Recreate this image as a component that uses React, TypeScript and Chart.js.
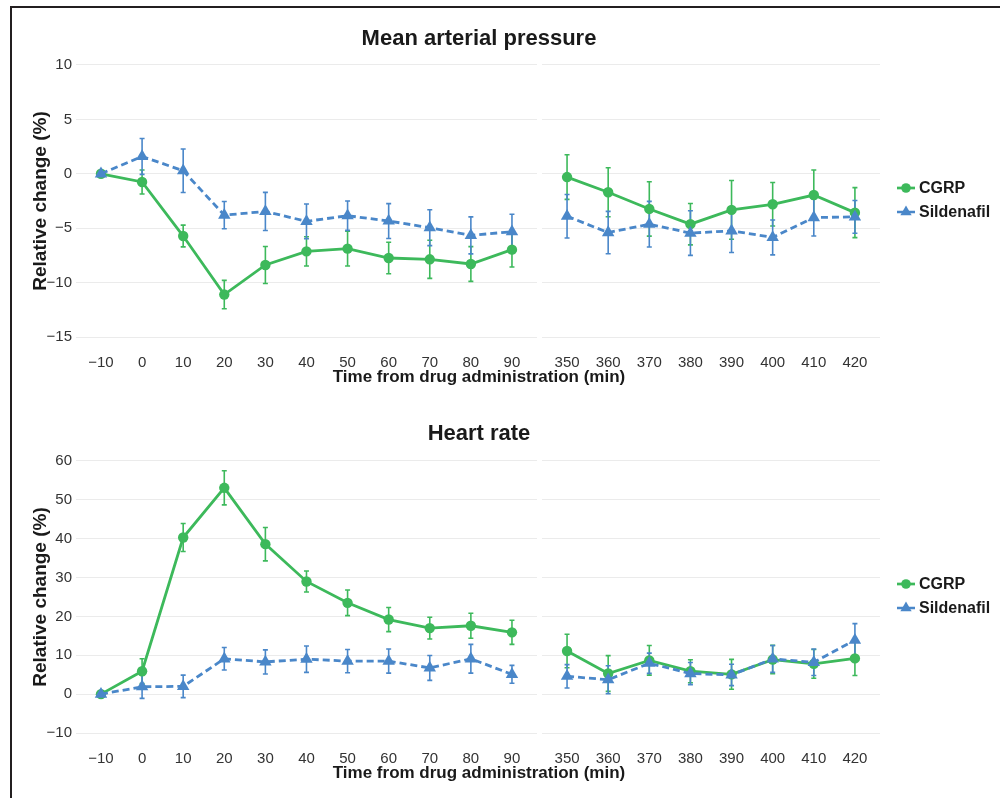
import React, { useEffect, useRef } from "react";
import { Chart, registerables } from "chart.js";

Chart.register(...registerables);

// ---------- Data ----------
const LEFT_TIMES = [-10, 0, 10, 20, 30, 40, 50, 60, 70, 80, 90];
const RIGHT_TIMES = [350, 360, 370, 380, 390, 400, 410, 420];
const MAP_TICKS = [10, 5, 0, -5, -10, -15];
const HR_TICKS = [60, 50, 40, 30, 20, 10, 0, -10];
const SERIES_NAMES = ["CGRP", "Sildenafil"];

// Mean arterial pressure (relative change, %)
const MAP_CGRP_LEFT = [0, -0.75, -5.72, -11.1, -8.38, -7.13, -6.88, -7.74, -7.86, -8.29, -6.97];
const MAP_CGRP_LEFT_ERR = [0, 1.1, 1.0, 1.3, 1.7, 1.35, 1.6, 1.45, 1.75, 1.6, 1.6];
const MAP_CGRP_RIGHT = [-0.3, -1.7, -3.23, -4.63, -3.32, -2.8, -1.95, -3.57];
const MAP_CGRP_RIGHT_ERR = [2.05, 2.25, 2.5, 1.9, 2.7, 2.0, 2.3, 2.3];
const MAP_SIL_LEFT = [0, 1.6, 0.28, -3.8, -3.46, -4.37, -3.85, -4.34, -4.95, -5.66, -5.32];
const MAP_SIL_LEFT_ERR = [0, 1.65, 2.0, 1.25, 1.75, 1.6, 1.35, 1.6, 1.65, 1.7, 1.6];
const MAP_SIL_RIGHT = [-3.9, -5.4, -4.63, -5.45, -5.24, -5.85, -4.02, -3.96];
const MAP_SIL_RIGHT_ERR = [2.0, 1.95, 2.1, 2.05, 2.0, 1.6, 1.7, 1.5];

// Heart rate (relative change, %)
const HR_CGRP_LEFT = [0, 5.9, 40.3, 53.1, 38.6, 29.0, 23.5, 19.2, 17.0, 17.6, 15.9];
const HR_CGRP_LEFT_ERR = [0, 3.2, 3.6, 4.4, 4.3, 2.7, 3.3, 3.1, 2.8, 3.2, 3.1];
const HR_CGRP_RIGHT = [11.1, 5.3, 8.7, 5.9, 5.1, 8.9, 7.8, 9.2];
const HR_CGRP_RIGHT_ERR = [4.3, 4.6, 3.8, 2.95, 3.85, 3.65, 3.7, 4.4];
const HR_SIL_LEFT = [0, 1.9, 2.0, 9.1, 8.3, 9.0, 8.5, 8.5, 6.75, 9.1, 5.1];
const HR_SIL_LEFT_ERR = [0, 3.0, 2.9, 2.9, 3.1, 3.4, 3.0, 3.1, 3.2, 3.7, 2.3];
const HR_SIL_RIGHT = [4.6, 3.7, 7.95, 5.3, 4.95, 9.05, 8.2, 13.9];
const HR_SIL_RIGHT_ERR = [3.0, 3.6, 2.6, 2.85, 2.75, 3.45, 3.4, 4.25];

// ---------- Styles ----------
const FONT = '"Liberation Sans", Arial, Helvetica, sans-serif';
const GREEN = "#3db95b";
const BLUE = "#4a87c9";
const GRID = "#ebebeb";
const TEXT = "#1a1a1a";
const TICK = "#333333";
const DASH = [7, 4];
const CIRCLE_R = 5.2;
const TRI_R = 7.2;

const fmt = (v: number) => (v < 0 ? "\u2212" + Math.abs(v) : String(v));

const errorBarPlugin = {
  id: "errorBars",
  beforeDatasetsDraw(chart: any) {
    const ctx = chart.ctx;
    const area = chart.chartArea;
    // gap between the two x panels
    const xl = chart.scales.xL;
    ctx.save();
    ctx.fillStyle = "#ffffff";
    ctx.fillRect(xl.right - 2.5, area.top, 5, area.bottom - area.top);
    ctx.restore();

    const y = chart.scales.y;
    chart.data.datasets.forEach((ds: any) => {
      const xs = chart.scales[ds.xAxisID];
      ctx.save();
      ctx.strokeStyle = ds.borderColor;
      ctx.lineWidth = 1.6;
      ds.data.forEach((p: any, i: number) => {
        const e = ds.errors[i];
        if (!e) return;
        const px = xs.getPixelForValue(p.x);
        const y1 = y.getPixelForValue(p.y + e);
        const y2 = y.getPixelForValue(p.y - e);
        ctx.beginPath();
        ctx.moveTo(px, y1);
        ctx.lineTo(px, y2);
        ctx.moveTo(px - 2.5, y1);
        ctx.lineTo(px + 2.5, y1);
        ctx.moveTo(px - 2.5, y2);
        ctx.lineTo(px + 2.5, y2);
        ctx.stroke();
      });
      ctx.restore();
    });
  },
};

const textPlugin = {
  id: "panelText",
  afterDraw(chart: any, _args: any, opts: any) {
    const ctx = chart.ctx;
    const a = chart.chartArea;
    const cx = (a.left + a.right) / 2;
    const cy = (a.top + a.bottom) / 2;
    ctx.save();
    ctx.fillStyle = TEXT;
    ctx.textAlign = "center";
    ctx.textBaseline = "middle";
    ctx.font = `bold 22px ${FONT}`;
    ctx.fillText(opts.title, cx + 1, 39);
    ctx.font = `bold 17px ${FONT}`;
    ctx.fillText("Time from drug administration (min)", cx + 1, a.bottom + 27);
    ctx.save();
    ctx.translate(41, cy);
    ctx.rotate(-Math.PI / 2);
    ctx.font = `bold 19px ${FONT}`;
    ctx.fillText("Relative change (%)", 0, 0);
    ctx.restore();

    // legend
    const items = [
      { name: SERIES_NAMES[0], color: GREEN, style: "circle", dy: -13, dash: [] as number[] },
      { name: SERIES_NAMES[1], color: BLUE, style: "triangle", dy: 11, dash: DASH },
    ];
    items.forEach((it) => {
      const ly = cy + it.dy;
      const x0 = a.right + 17;
      const x1 = a.right + 35;
      const mx = (x0 + x1) / 2;
      ctx.save();
      ctx.strokeStyle = it.color;
      ctx.lineWidth = 2.7;
      ctx.setLineDash(it.dash);
      ctx.beginPath();
      ctx.moveTo(x0, ly);
      ctx.lineTo(x1, ly);
      ctx.stroke();
      ctx.restore();
      ctx.save();
      ctx.fillStyle = it.color;
      ctx.beginPath();
      if (it.style === "circle") {
        ctx.arc(mx, ly, 4.8, 0, Math.PI * 2);
      } else {
        const r = 6.5;
        for (let k = 0; k < 3; k++) {
          const ang = (k * 2 * Math.PI) / 3;
          const px = mx + Math.sin(ang) * r;
          const py = ly - Math.cos(ang) * r;
          if (k === 0) ctx.moveTo(px, py);
          else ctx.lineTo(px, py);
        }
        ctx.closePath();
      }
      ctx.fill();
      ctx.restore();
      ctx.fillStyle = TEXT;
      ctx.textAlign = "left";
      ctx.font = `bold 16px ${FONT}`;
      ctx.fillText(it.name, x1 + 4, ly + 0.5);
    });
    ctx.restore();
  },
};

function series(times: number[], vals: number[]) {
  return times.map((t, i) => ({ x: t, y: vals[i] }));
}

function makeDataset(name: string, times: number[], vals: number[], errs: number[], axis: string, isSil: boolean) {
  return {
    label: name,
    data: series(times, vals),
    errors: errs,
    xAxisID: axis,
    yAxisID: "y",
    order: isSil ? 0 : 1,
    borderColor: isSil ? BLUE : GREEN,
    backgroundColor: isSil ? BLUE : GREEN,
    borderWidth: 2.8,
    borderDash: isSil ? DASH : [],
    pointStyle: isSil ? "triangle" : "circle",
    pointRadius: isSil ? TRI_R : CIRCLE_R,
    pointBorderWidth: 0,
    pointBackgroundColor: isSil ? BLUE : GREEN,
    fill: false,
    tension: 0,
  };
}

function xScale(min: number, max: number, weight: number, ticks: number[]) {
  return {
    type: "linear",
    position: "bottom",
    stack: "x",
    stackWeight: weight,
    min,
    max,
    afterBuildTicks: (s: any) => {
      s.ticks = ticks.map((v) => ({ value: v }));
    },
    afterFit: (s: any) => {
      s.height = 20;
    },
    grid: { display: false, drawTicks: false },
    border: { display: false },
    ticks: {
      padding: 3,
      maxRotation: 0,
      autoSkip: false,
      color: TICK,
      font: { family: FONT, size: 15 },
      callback: (v: any) => fmt(Number(v)),
    },
  };
}

function buildConfig(
  title: string,
  yMin: number,
  yMax: number,
  yTicks: number[],
  cgrpL: number[], cgrpLE: number[], cgrpR: number[], cgrpRE: number[],
  silL: number[], silLE: number[], silR: number[], silRE: number[],
  padTop: number, padBottom: number
): any {
  return {
    type: "line",
    data: {
      datasets: [
        makeDataset(SERIES_NAMES[0], LEFT_TIMES, cgrpL, cgrpLE, "xL", false),
        makeDataset(SERIES_NAMES[0], RIGHT_TIMES, cgrpR, cgrpRE, "xR", false),
        makeDataset(SERIES_NAMES[1], LEFT_TIMES, silL, silLE, "xL", true),
        makeDataset(SERIES_NAMES[1], RIGHT_TIMES, silR, silRE, "xR", true),
      ],
    },
    options: {
      responsive: false,
      animation: false,
      events: [],
      layout: { padding: { left: 0, right: 120, top: padTop, bottom: padBottom } },
      plugins: {
        legend: { display: false },
        tooltip: { enabled: false },
        title: { display: false },
        panelText: { title },
      },
      scales: {
        y: {
          type: "linear",
          position: "left",
          min: yMin,
          max: yMax,
          afterBuildTicks: (s: any) => {
            s.ticks = yTicks.map((v) => ({ value: v }));
          },
          afterFit: (s: any) => {
            s.width = 76;
          },
          grid: { color: GRID, lineWidth: 1, drawTicks: false },
          border: { display: false },
          ticks: {
            padding: 4,
            color: TICK,
            font: { family: FONT, size: 15 },
            callback: (v: any) => fmt(Number(v)),
          },
        },
        xL: xScale(-16.08, 96.7, 463.5, LEFT_TIMES),
        xR: xScale(343.3, 426.1, 340.5, RIGHT_TIMES),
      },
    },
    plugins: [errorBarPlugin, textPlugin],
  };
}

function Panel({ config, top, height }: { config: any; top: number; height: number }) {
  const ref = useRef<HTMLCanvasElement | null>(null);
  useEffect(() => {
    if (!ref.current) return;
    const chart = new Chart(ref.current, config);
    return () => chart.destroy();
  }, [config]);
  return (
    <canvas
      ref={ref}
      width={1000}
      height={height}
      style={{ position: "absolute", left: 0, top, width: 1000, height }}
    />
  );
}

const TOP_CONFIG = buildConfig(
  "Mean arterial pressure", -16.25, 11.25, MAP_TICKS,
  MAP_CGRP_LEFT, MAP_CGRP_LEFT_ERR, MAP_CGRP_RIGHT, MAP_CGRP_RIGHT_ERR,
  MAP_SIL_LEFT, MAP_SIL_LEFT_ERR, MAP_SIL_RIGHT, MAP_SIL_RIGHT_ERR,
  51.4, 24.4
);

const BOTTOM_CONFIG = buildConfig(
  "Heart rate", -13.5, 63.5, HR_TICKS,
  HR_CGRP_LEFT, HR_CGRP_LEFT_ERR, HR_CGRP_RIGHT, HR_CGRP_RIGHT_ERR,
  HR_SIL_LEFT, HR_SIL_LEFT_ERR, HR_SIL_RIGHT, HR_SIL_RIGHT_ERR,
  52.4, 31.4
);

export default function App() {
  return (
    <div
      style={{
        position: "absolute",
        left: 0,
        top: 0,
        width: 1000,
        height: 798,
        overflow: "hidden",
        background: "#ffffff",
        fontFamily: FONT,
      }}
    >
      <Panel config={TOP_CONFIG} top={0} height={395} />
      <Panel config={BOTTOM_CONFIG} top={395} height={403} />
      <div
        style={{
          position: "absolute",
          left: 10,
          top: 6,
          width: 992,
          height: 800,
          borderTop: "2px solid #231f20",
          borderLeft: "2px solid #231f20",
          pointerEvents: "none",
        }}
      />
    </div>
  );
}
